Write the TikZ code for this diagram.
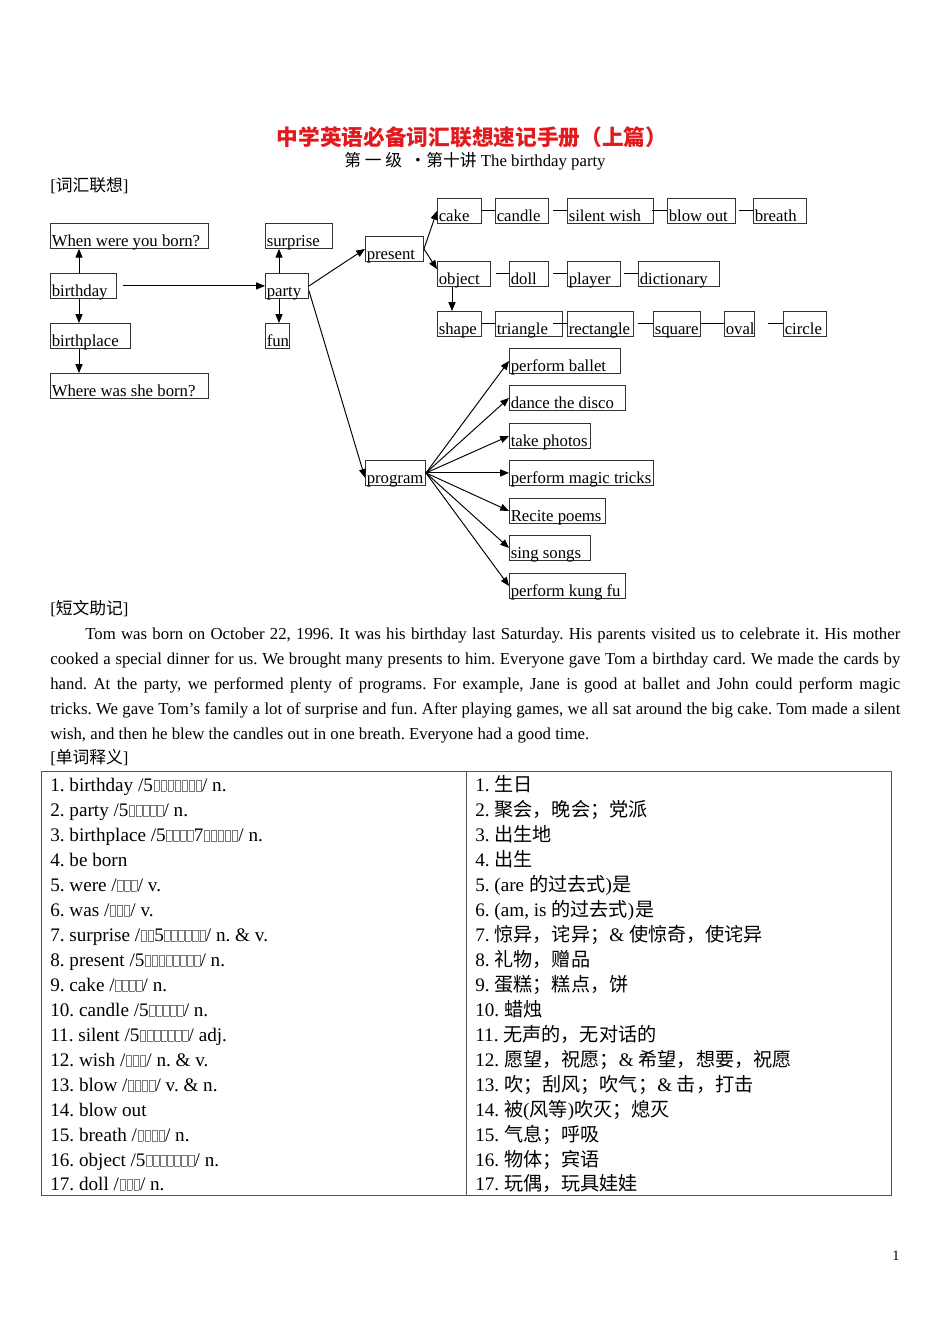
\documentclass[tikz,border=0pt]{standalone}
\usepackage{fontspec}
\setmainfont{Liberation Serif}
\newfontfamily\cjk{Noto Sans CJK SC}
\usepackage{tikz}
\usetikzlibrary{arrows.meta}
\definecolor{cTitle}{HTML}{E3191E}
\definecolor{cLine} {HTML}{333333}
\definecolor{cGrid} {HTML}{555555}
\definecolor{cTofu} {HTML}{777777}
\newlength\px \setlength\px{0.6266pt}
\frenchspacing
% empty glyph boxes of the phonetic spelling
\newcount\tfn
\newcommand\tfbox{\kern0.35pt\vbox{\hrule height0.3pt\hbox{\vrule width0.3pt height6.6pt\kern3.1pt\vrule width0.3pt}\hrule height0.3pt}\kern0.35pt}
\newcommand\tofu[1]{{\color{cTofu}\tfn=#1\relax\loop\tfbox\advance\tfn by -1\relax\ifnum\tfn>0 \repeat}}
\tikzset{
  wbox/.style={draw=cLine, line width=0.6pt, anchor=north west, inner sep=0pt,
    text height=14.6pt, text depth=1pt, font=\fontsize{10.5}{12}\selectfont,
    execute at begin node={\hbox to #1\px\bgroup\kern0.8pt},
    execute at end node={\hfil\egroup}},
  arr/.style={-{Triangle[length=5.5pt,width=4.4pt]}, line width=0.6pt},
  lnk/.style={line width=0.6pt},
  row/.style={anchor=base west, inner sep=0pt, font=\fontsize{12}{14}\selectfont},
  txt/.style={anchor=base west, inner sep=0pt, font=\fontsize{10.5}{12}\selectfont},
}

\begin{document}
\begin{tikzpicture}[x=0.6266pt,y=-0.6266pt]
  \fill[white] (0,0) rectangle (950,1344);
  \useasboundingbox (0,0) rectangle (950,1344);

  % heading
  \node[anchor=base, inner sep=0pt, text=cTitle, font=\fontsize{13.6}{16}\cjk\bfseries] (title) at (472,145) {中学英语必备词汇联想速记手册（上篇）};
  \node[anchor=base, inner sep=0pt, font=\fontsize{10.5}{12}\selectfont] (sub) at (475,166) {{\cjk 第 一 级\ \ ・第十讲} The birthday party};
  \node[txt] (sec1) at (50,191) {[{\cjk 词汇联想}]};

  % left part
  \node[wbox=158] (when)   at (50,223) {When were you born?};
  \node[wbox=66]  (bday)   at (50,273) {birthday};
  \node[wbox=80]  (bplace) at (50,323) {birthplace};
  \node[wbox=158] (where)  at (50,373) {Where was she born?};
  \node[wbox=67]  (surp)   at (265,223) {surprise};
  \node[wbox=43]  (party)  at (265,273) {party};
  \node[wbox=24]  (fun)    at (265,323) {fun};
  \node[wbox=58]  (pres)   at (365,236) {present};
  \node[wbox=60]  (prog)   at (365,460) {program};

  \draw[arr] ([xshift=29\px]bday.north west) -- ([xshift=29\px]when.south west);
  \draw[arr] ([xshift=29\px]bday.south west) -- ([xshift=29\px]bplace.north west);
  \draw[arr] ([xshift=29\px]bplace.south west) -- ([xshift=29\px]where.north west);
  \draw[arr] ([xshift=6\px]bday.east) -- (party.west);
  \draw[arr] ([xshift=14\px]party.north west) -- ([xshift=14\px]surp.south west);
  \draw[arr] ([xshift=14\px]party.south west) -- ([xshift=14\px]fun.north west);
  \draw[arr] (party.east) -- (pres.west);
  \draw[arr] ([yshift=-3pt]party.east) -- ([yshift=-3pt]prog.west);

  % present branch
  \node[wbox=44] (cake)   at (437,198) {cake};
  \node[wbox=53] (candle) at (495,198) {candle};
  \node[wbox=86] (wish)   at (567,198) {silent wish};
  \node[wbox=68] (blow)   at (667,198) {blow out};
  \node[wbox=53] (breath) at (753,198) {breath};
  \node[wbox=53] (obj)    at (437,261) {object};
  \node[wbox=39] (doll)   at (509,261) {doll};
  \node[wbox=53] (player) at (567,261) {player};
  \node[wbox=81] (dict)   at (638,261) {dictionary};
  \node[wbox=44] (shape)  at (437,311) {shape};
  \node[wbox=67] (tri)    at (495,311) {triangle};
  \node[wbox=66] (rect)   at (567,311) {rectangle};
  \node[wbox=47] (sq)     at (653,311) {square};
  \node[wbox=30] (oval)   at (724,311) {oval};
  \node[wbox=43] (circ)   at (783,311) {circle};

  \draw[arr] (pres.east) -- (cake.west);
  \draw[arr] (pres.east) -- ([yshift=3pt]obj.west);
  \draw[arr] ([xshift=15\px]obj.south west) -- ([xshift=15\px]shape.north west);
  \draw[lnk] (cake.east) -- (candle.west);
  \draw[lnk] ([xshift=-14\px]wish.west) -- (wish.west);
  \draw[lnk] ([xshift=-15\px]blow.west) -- (blow.west);
  \draw[lnk] ([xshift=-14\px]breath.west) -- (breath.west);
  \draw[lnk] ([xshift=-13\px]doll.west) -- (doll.west);
  \draw[lnk] ([xshift=-14\px]player.west) -- (player.west);
  \draw[lnk] ([xshift=-14\px]dict.west) -- (dict.west);
  \draw[lnk] (shape.east) -- (tri.west);
  \draw[lnk] ([xshift=-14\px]rect.west) -- (rect.west);
  \draw[lnk] ([xshift=-15\px]sq.west) -- (sq.west);
  \draw[lnk] (sq.east) -- (oval.west);
  \draw[lnk] ([xshift=-15\px]circ.west) -- (circ.west);

  % program branch
  \node[wbox=111] (ballet) at (509,348) {perform ballet};
  \node[wbox=116] (disco)  at (509,385) {dance the disco};
  \node[wbox=81]  (photo)  at (509,423) {take photos};
  \node[wbox=144] (magic)  at (509,460) {perform magic tricks};
  \node[wbox=96]  (poem)   at (509,498) {Recite poems};
  \node[wbox=81]  (song)   at (509,535) {sing songs};
  \node[wbox=116] (kungfu) at (509,573) {perform kung fu};
  \foreach \t in {ballet,disco,photo,magic,poem,song,kungfu}
    \draw[arr] (prog.east) -- (\t.west);

  % short passage
  \node[txt] (sec2) at (50,614) {[{\cjk 短文助记}]};
  \node[txt] (p1) at (85,639) {\makebox[815\px][s]{Tom was born on October 22, 1996. It was his birthday last Saturday. His parents visited us to celebrate it. His mother}};
  \node[txt] (p2) at (50,664) {\makebox[850\px][s]{cooked a special dinner for us. We brought many presents to him. Everyone gave Tom a birthday card. We made the cards by}};
  \node[txt] (p3) at (50,689) {\makebox[850\px][s]{hand. At the party, we performed plenty of programs. For example, Jane is good at ballet and John could perform magic}};
  \node[txt] (p4) at (50,714) {\makebox[850\px][s]{tricks. We gave Tom’s family a lot of surprise and fun. After playing games, we all sat around the big cake. Tom made a silent}};
  \node[txt] (p5) at (50,739) {wish, and then he blew the candles out in one breath. Everyone had a good time.};

  % word list
  \node[txt] (sec3) at (50,763) {[{\cjk 单词释义}]};
  \draw[cGrid, line width=0.6pt] (41,771) rectangle (891,1195);
  \draw[cGrid, line width=0.6pt] (466,771) -- (466,1195);

  \node[row] (l1)  at (50,791)  {1. birthday /5\tofu{7}/ n.};
  \node[row] (l2)  at (50,816)  {2. party /5\tofu{5}/ n.};
  \node[row] (l3)  at (50,841)  {3. birthplace /5\tofu{4}7\tofu{5}/ n.};
  \node[row] (l4)  at (50,866)  {4. be born};
  \node[row] (l5)  at (50,891)  {5. were /\tofu{3}/ v.};
  \node[row] (l6)  at (50,916)  {6. was /\tofu{3}/ v.};
  \node[row] (l7)  at (50,941)  {7. surprise /\tofu{2}5\tofu{6}/ n. \& v.};
  \node[row] (l8)  at (50,966)  {8. present /5\tofu{8}/ n.};
  \node[row] (l9)  at (50,991)  {9. cake /\tofu{4}/ n.};
  \node[row] (l10) at (50,1016) {10. candle /5\tofu{5}/ n.};
  \node[row] (l11) at (50,1041) {11. silent /5\tofu{7}/ adj.};
  \node[row] (l12) at (50,1066) {12. wish /\tofu{3}/ n. \& v.};
  \node[row] (l13) at (50,1091) {13. blow /\tofu{4}/ v. \& n.};
  \node[row] (l14) at (50,1116) {14. blow out};
  \node[row] (l15) at (50,1141) {15. breath /\tofu{4}/ n.};
  \node[row] (l16) at (50,1166) {16. object /5\tofu{7}/ n.};
  \node[row] (l17) at (50,1190) {17. doll /\tofu{3}/ n.};

  \node[row] (r1)  at (475,791)  {1. {\cjk 生日}};
  \node[row] (r2)  at (475,816)  {2. {\cjk 聚会，晚会；党派}};
  \node[row] (r3)  at (475,841)  {3. {\cjk 出生地}};
  \node[row] (r4)  at (475,866)  {4. {\cjk 出生}};
  \node[row] (r5)  at (475,891)  {5. (are {\cjk 的过去式})\kern0.5pt{\cjk 是}};
  \node[row] (r6)  at (475,916)  {6. (am, is {\cjk 的过去式})\kern0.5pt{\cjk 是}};
  \node[row] (r7)  at (475,941)  {7. {\cjk 惊异，诧异；}\& {\cjk 使惊奇，使诧异}};
  \node[row] (r8)  at (475,966)  {8. {\cjk 礼物，赠品}};
  \node[row] (r9)  at (475,991)  {9. {\cjk 蛋糕；糕点，饼}};
  \node[row] (r10) at (475,1016) {10. {\cjk 蜡烛}};
  \node[row] (r11) at (475,1041) {11. {\cjk 无声的，无对话的}};
  \node[row] (r12) at (475,1066) {12. {\cjk 愿望，祝愿；}\& {\cjk 希望，想要，祝愿}};
  \node[row] (r13) at (475,1091) {13. {\cjk 吹；刮风；吹气；}\& {\cjk 击，打击}};
  \node[row] (r14) at (475,1116) {14. {\cjk 被}({\cjk 风等}){\cjk 吹灭；熄灭}};
  \node[row] (r15) at (475,1141) {15. {\cjk 气息；呼吸}};
  \node[row] (r16) at (475,1166) {16. {\cjk 物体；宾语}};
  \node[row] (r17) at (475,1190) {17. {\cjk 玩偶，玩具娃娃}};

  \node[anchor=base, inner sep=0pt, font=\fontsize{9}{10}\selectfont] (pg) at (896,1260) {1};
\end{tikzpicture}
\end{document}
